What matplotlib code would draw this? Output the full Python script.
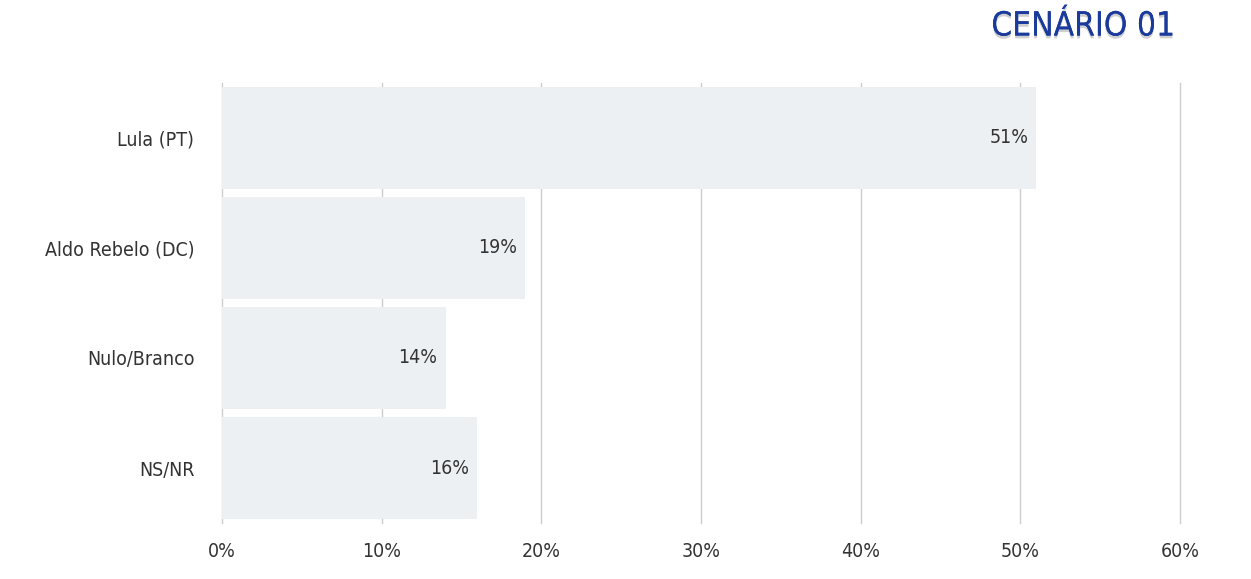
import matplotlib
matplotlib.use("Agg")
import matplotlib.pyplot as plt
import matplotlib.patheffects as pe

cats = ["Lula (PT)", "Aldo Rebelo (DC)", "Nulo/Branco", "NS/NR"]
vals = [51, 19, 14, 16]
xticks = [0, 10, 20, 30, 40, 50, 60]

plt.rcParams["font.family"] = ["DejaVu Sans"]
plt.rcParams["font.stretch"] = "condensed"
plt.rcParams["font.weight"] = "light"

fig = plt.figure(figsize=(12.51, 5.79), dpi=100)
ax = fig.add_axes([0.1775, 0.0967, 0.7657, 0.76])
y = list(range(len(cats)))
ax.set_axisbelow(True)
ax.xaxis.grid(True, color="#cccccc", lw=1)
for gl in ax.get_xgridlines():
    gl.set_clip_on(False)
ax.barh(y, vals, height=0.92, color="#edf0f2", zorder=2)
for yi, v in zip(y, vals):
    ax.text(v - 0.5, yi, f"{v}%", ha="right", va="center", fontsize=14, color="#333333", zorder=3)
ax.set_xlim(0, 60)
ax.set_ylim(len(cats) - 0.5, -0.5)
ax.set_yticks(y)
ax.set_yticklabels(cats, fontsize=14, color="#333333")
ax.tick_params(axis="y", which="major", length=0, pad=20)
ax.set_xticks(xticks)
ax.set_xticklabels([f"{t}%" for t in xticks], fontsize=14, color="#333333")
ax.tick_params(axis="x", length=0, pad=14)
for gl in ax.get_xgridlines():
    gl.set_clip_on(False)
for s in ax.spines.values():
    s.set_visible(False)
fig.text(0.866, 0.955, "CENÁRIO 01", ha="center", va="center", fontsize=24, color="#1a3a9c",
         path_effects=[pe.withSimplePatchShadow(offset=(0, -2), shadow_rgbFace="#888888", alpha=0.4), pe.Normal()])
fig.savefig("out.png", dpi=100)
